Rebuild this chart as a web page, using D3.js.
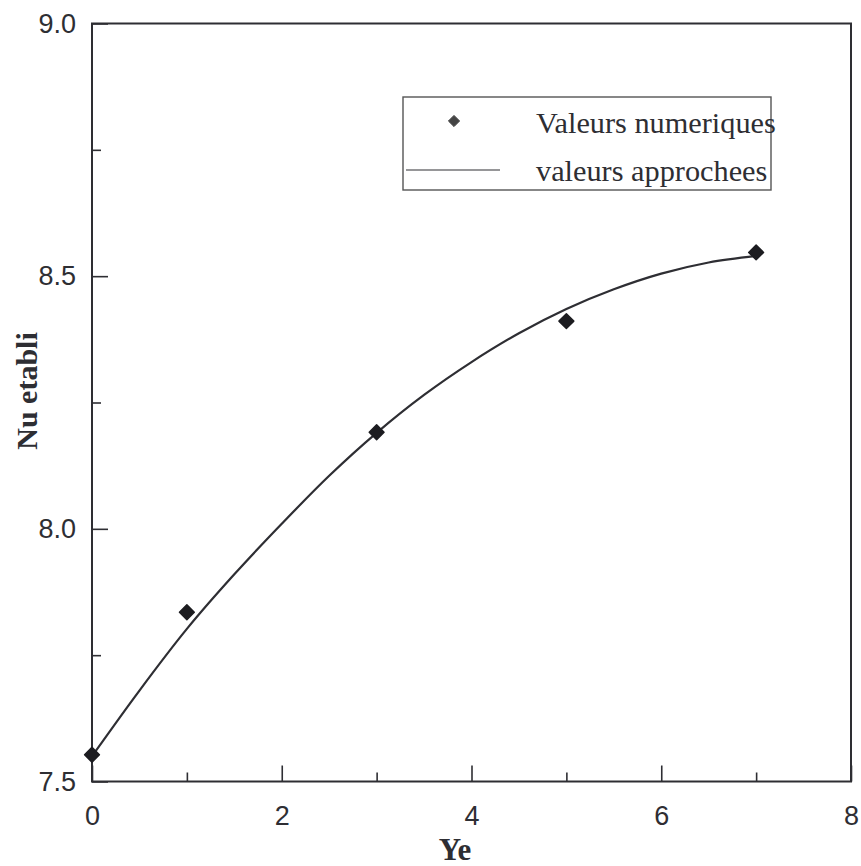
<!DOCTYPE html>
<html>
<head>
<meta charset="utf-8">
<script src="https://cdn.jsdelivr.net/npm/d3@7/dist/d3.min.js"></script>
<style>
  html, body { margin: 0; padding: 0; background: #fff; }
  svg { display: block; }
</style>
</head>
<body>
<svg id="chart" width="861" height="866"></svg>
<script>
// Computed Nusselt number at several Ye values
const yeValues = [0, 1, 3, 5, 7];
const nuNumeric = [7.553, 7.835, 8.191, 8.411, 8.547];

// Approximating curve, sampled along Ye
const fitYe = [0, 0.5, 1, 1.5, 2, 2.5, 3, 3.5, 4, 4.5, 5, 5.5, 6, 6.5, 7];
const fitNu = [7.550, 7.680, 7.802, 7.910, 8.010, 8.105, 8.190, 8.265, 8.330, 8.387, 8.435, 8.474, 8.505, 8.527, 8.540];

const xMajorTicks = [0, 2, 4, 6, 8];
const xMinorTicks = [1, 3, 5, 7];
const yMajorTicks = [7.5, 8.0, 8.5, 9.0];
const yMinorTicks = [7.75, 8.25, 8.75];

const legendLabels = ["Valeurs numeriques", "valeurs approchees"];
const xTitle = "Ye";
const yTitle = "Nu etabli";

(function () {
  const svg = d3.select("#chart");
  const ink = "#2e2e33";

  const m = { left: 92, right: 851, top: 23.5, bottom: 781.5 };
  const x = d3.scaleLinear().domain([0, 8]).range([m.left, m.right]);
  const y = d3.scaleLinear().domain([7.5, 9.0]).range([m.bottom, m.top]);

  // Frame
  svg.append("rect")
    .attr("x", m.left).attr("y", m.top)
    .attr("width", m.right - m.left).attr("height", m.bottom - m.top)
    .attr("fill", "none").attr("stroke", ink).attr("stroke-width", 2);

  // Bottom axis: inward ticks, labels below
  const gx = svg.append("g").attr("transform", `translate(0,${m.bottom})`)
    .call(d3.axisBottom(x).tickValues(xMajorTicks).tickSize(-16).tickPadding(30)
      .tickFormat(d3.format("d")));
  gx.select(".domain").remove();
  gx.selectAll(".tick line").attr("stroke", ink).attr("stroke-width", 1.6);
  gx.selectAll(".tick text")
    .attr("font-family", "Liberation Sans, Arial, sans-serif")
    .attr("font-size", 27).attr("fill", ink).attr("dy", "0.5em");
  svg.append("g").attr("transform", `translate(0,${m.bottom})`)
    .call(d3.axisBottom(x).tickValues(xMinorTicks).tickSize(-9).tickFormat(""))
    .call(g => g.select(".domain").remove())
    .selectAll(".tick line").attr("stroke", ink).attr("stroke-width", 1.6);

  // Left axis: inward ticks, labels to the left
  const gy = svg.append("g").attr("transform", `translate(${m.left},0)`)
    .call(d3.axisLeft(y).tickValues(yMajorTicks).tickSize(-16).tickPadding(16)
      .tickFormat(d3.format(".1f")));
  gy.select(".domain").remove();
  gy.selectAll(".tick line").attr("stroke", ink).attr("stroke-width", 1.6);
  gy.selectAll(".tick text")
    .attr("font-family", "Liberation Sans, Arial, sans-serif")
    .attr("font-size", 27).attr("fill", ink);
  svg.append("g").attr("transform", `translate(${m.left},0)`)
    .call(d3.axisLeft(y).tickValues(yMinorTicks).tickSize(-9).tickFormat(""))
    .call(g => g.select(".domain").remove())
    .selectAll(".tick line").attr("stroke", ink).attr("stroke-width", 1.6);

  // Approximating curve
  const line = d3.line()
    .x((d, i) => x(fitYe[i]))
    .y(d => y(d))
    .curve(d3.curveCatmullRom);
  svg.append("path")
    .datum(fitNu)
    .attr("d", line)
    .attr("fill", "none").attr("stroke", ink).attr("stroke-width", 2.2);

  // Numeric values as diamonds
  const diamond = d3.symbol().type(d3.symbolDiamond2).size(140);
  svg.append("g").selectAll("path")
    .data(nuNumeric)
    .join("path")
    .attr("d", diamond)
    .attr("transform", (d, i) => `translate(${x(yeValues[i])},${y(d)})`)
    .attr("fill", "#1c1c20").attr("stroke", "#1c1c20").attr("stroke-width", 1.5)
    .attr("stroke-linejoin", "round");

  // Legend
  const lg = svg.append("g");
  lg.append("rect")
    .attr("x", 403).attr("y", 97).attr("width", 368).attr("height", 93)
    .attr("fill", "#fff").attr("stroke", "#555").attr("stroke-width", 1.4);
  lg.append("path")
    .attr("d", d3.symbol().type(d3.symbolDiamond2).size(80))
    .attr("transform", "translate(454,121)")
    .attr("fill", "#444").attr("stroke", "#444").attr("stroke-width", 1).attr("stroke-linejoin", "round");
  lg.append("line")
    .attr("x1", 406).attr("x2", 500).attr("y1", 170).attr("y2", 170)
    .attr("stroke", ink).attr("stroke-width", 1.2);
  lg.selectAll("text")
    .data(legendLabels)
    .join("text")
    .attr("x", 536)
    .attr("y", (d, i) => i === 0 ? 133 : 181)
    .attr("font-family", "Liberation Serif, Times New Roman, serif")
    .attr("font-size", 30.3)
    .attr("fill", ink)
    .text(d => d);

  // Axis titles
  svg.append("text")
    .attr("x", 455).attr("y", 860)
    .attr("text-anchor", "middle")
    .attr("font-family", "Liberation Serif, Times New Roman, serif")
    .attr("font-weight", "bold").attr("font-size", 31)
    .attr("fill", ink)
    .text(xTitle);
  svg.append("text")
    .attr("transform", "translate(37,391) rotate(-90)")
    .attr("text-anchor", "middle")
    .attr("font-family", "Liberation Serif, Times New Roman, serif")
    .attr("font-weight", "bold").attr("font-size", 30)
    .attr("fill", ink)
    .text(yTitle);
})();
</script>
</body>
</html>
